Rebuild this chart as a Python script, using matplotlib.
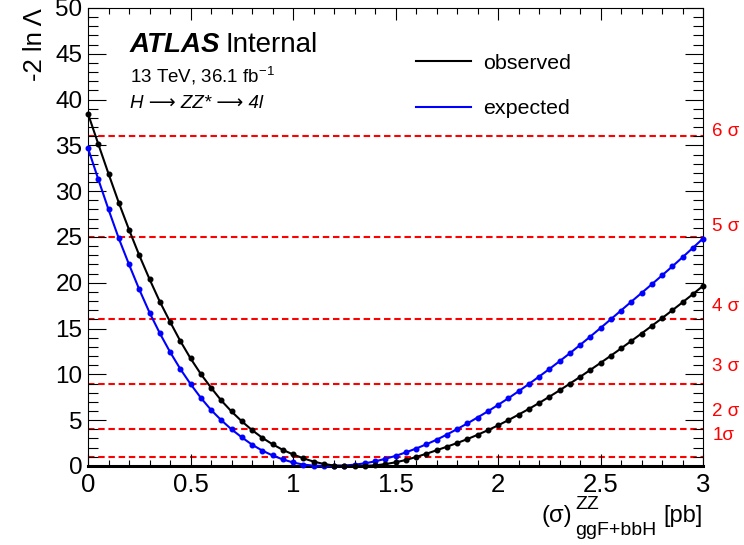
import matplotlib
matplotlib.use("Agg")
import matplotlib.pyplot as plt
from matplotlib.lines import Line2D
from matplotlib.ticker import MultipleLocator, FuncFormatter

plt.rcParams["font.family"] = ["Liberation Sans", "DejaVu Sans"]
plt.rcParams["mathtext.fontset"] = "custom"
plt.rcParams["mathtext.rm"] = "Liberation Sans"
plt.rcParams["mathtext.it"] = "Liberation Sans:italic"

# === Scan points ===
xsec = [0.00, 0.05, 0.10, 0.15, 0.20, 0.25, 0.30, 0.35, 0.40, 0.45,
        0.50, 0.55, 0.60, 0.65, 0.70, 0.75, 0.80, 0.85, 0.90, 0.95,
        1.00, 1.05, 1.10, 1.15, 1.20, 1.25, 1.30, 1.35, 1.40, 1.45,
        1.50, 1.55, 1.60, 1.65, 1.70, 1.75, 1.80, 1.85, 1.90, 1.95,
        2.00, 2.05, 2.10, 2.15, 2.20, 2.25, 2.30, 2.35, 2.40, 2.45,
        2.50, 2.55, 2.60, 2.65, 2.70, 2.75, 2.80, 2.85, 2.90, 2.95, 3.00]

observed = [38.45, 35.15, 31.90, 28.75, 25.80, 23.00, 20.40, 17.95, 15.75, 13.65,
            11.75, 10.05, 8.55, 7.15, 5.95, 4.88, 3.92, 3.08, 2.37, 1.76,
            1.26, 0.84, 0.48, 0.22, 0.05, 0.00, 0.00, 0.02, 0.07, 0.20,
            0.40, 0.65, 0.98, 1.33, 1.71, 2.10, 2.50, 2.93, 3.40, 3.90,
            4.43, 5.00, 5.60, 6.22, 6.87, 7.55, 8.25, 8.98, 9.72, 10.48,
            11.25, 12.03, 12.83, 13.64, 14.46, 15.29, 16.13, 16.99, 17.86, 18.75, 19.66]

expected = [34.69, 31.30, 28.00, 24.85, 22.00, 19.27, 16.75, 14.50, 12.45, 10.60,
            8.95, 7.45, 6.12, 5.00, 4.00, 3.13, 2.33, 1.68, 1.15, 0.72,
            0.38, 0.15, 0.04, 0.00, 0.01, 0.05, 0.14, 0.29, 0.50, 0.78,
            1.10, 1.48, 1.90, 2.36, 2.86, 3.42, 4.02, 4.64, 5.29, 5.96,
            6.66, 7.39, 8.15, 8.94, 9.75, 10.58, 11.43, 12.30, 13.20, 14.12,
            15.06, 16.01, 16.97, 17.93, 18.88, 19.83, 20.80, 21.78, 22.78, 23.80, 24.83]

# significance reference lines
sigma_levels = [1, 4, 9, 16, 25, 36]
sigma_labels = ["1\u03c3", "2 \u03c3", "3 \u03c3", "4 \u03c3", "5 \u03c3", "6 \u03c3"]
sigma_label_y = [2.8, 5.5, 10.4, 16.9, 25.6, 36.0]

# === Plot ===
fig = plt.figure(figsize=(7.44, 5.45), dpi=100)
ax = fig.add_axes([0.1183, 0.1450, 0.8266, 0.8404])

for lvl in sigma_levels:
    ax.plot([0, 3], [lvl, lvl], color="#ff0000", lw=1.5, linestyle=(0, (3.1, 1.8)), zorder=1)

ax.plot(xsec, expected, color="#0000ff", lw=1.5, marker="o", markersize=3.3, zorder=3, clip_on=False)
ax.plot(xsec, observed, color="black", lw=1.5, marker="o", markersize=3.3, zorder=4, clip_on=False)

for lab, ly in zip(sigma_labels, sigma_label_y):
    ax.text(3.045, ly, lab, color="#ff0000", fontsize=13.5, ha="left", va="baseline", clip_on=False)

ax.set_xlim(0, 3)
ax.set_ylim(0, 50)
ax.xaxis.set_major_locator(MultipleLocator(0.5))
ax.xaxis.set_minor_locator(MultipleLocator(0.1))
ax.yaxis.set_major_locator(MultipleLocator(5))
ax.yaxis.set_minor_locator(MultipleLocator(1))
ax.xaxis.set_major_formatter(FuncFormatter(lambda v, p: f"{v:g}"))

ax.tick_params(which="both", direction="in", top=True, right=True, width=0.8)
ax.tick_params(axis="x", which="major", length=8.6, pad=5, labelsize=18.5)
ax.tick_params(axis="x", which="minor", length=4.3)
ax.tick_params(axis="y", which="major", length=13, pad=4, labelsize=17.5)
ax.tick_params(axis="y", which="minor", length=7)
for s in ax.spines.values():
    s.set_linewidth(0.8)
ax.spines["bottom"].set_linewidth(2.2)

ax.set_ylabel("-2 ln \u039b", fontsize=18.5, loc="top")
ax.yaxis.set_label_coords(-0.067, 1.0)

# x axis title: (sigma)^ZZ_ggF+bbH [pb]
ax.text(0.787, -0.1223, "(\u03c3)", transform=ax.transAxes, fontsize=17, ha="right", va="baseline")
ax.text(0.792, -0.0939, "ZZ", transform=ax.transAxes, fontsize=14, ha="left", va="baseline")
ax.text(0.792, -0.1507, "ggF+bbH", transform=ax.transAxes, fontsize=14, ha="left", va="baseline")
ax.text(1.0, -0.1223, "[pb]", transform=ax.transAxes, fontsize=17, ha="right", va="baseline")

# ATLAS label
ax.text(0.068, 0.904, "ATLAS", transform=ax.transAxes, fontsize=20,
        fontweight="bold", fontstyle="italic", va="baseline")
ax.text(0.224, 0.904, "Internal", transform=ax.transAxes, fontsize=20, va="baseline")
ax.text(0.068, 0.838, r"13 TeV, 36.1 fb$^{-1}$", transform=ax.transAxes, fontsize=13.5, va="baseline")
ax.text(0.068, 0.782, "H \u27f6 ZZ* \u27f6 4l", transform=ax.transAxes, fontsize=13.5,
        fontstyle="italic", va="baseline", family=["Liberation Sans", "DejaVu Sans"])

handles = [Line2D([], [], color="black", lw=1.5), Line2D([], [], color="#0000ff", lw=1.5)]
ax.legend(handles, ["observed", "expected"], loc="upper left", bbox_to_anchor=(0.533, 0.9),
          frameon=False, fontsize=15.4, handlelength=2.6, handletextpad=0.56,
          labelspacing=1.25, borderpad=0, borderaxespad=0)

fig.savefig("out.png", dpi=100)
